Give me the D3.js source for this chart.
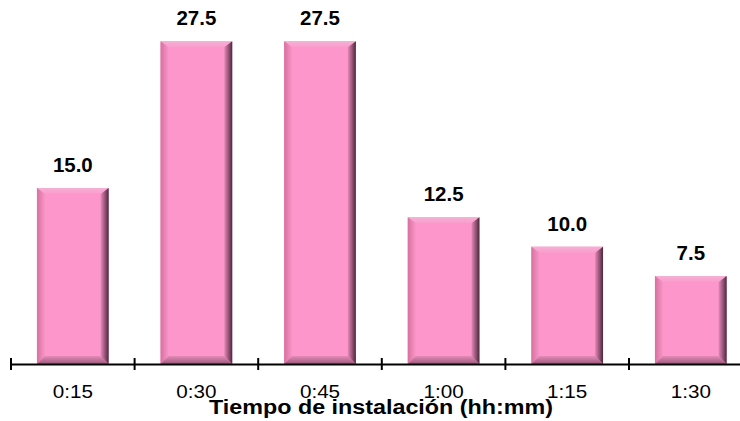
<!DOCTYPE html>
<html>
<head>
<meta charset="utf-8">
<script src="https://cdn.jsdelivr.net/npm/d3@7"></script>
<style>
  html, body { margin: 0; padding: 0; background: #fff; }
  svg { display: block; font-family: Arial, "Liberation Sans", sans-serif; }
</style>
</head>
<body>
<div id="chart"></div>
<script>
  'use strict';
  var categories = ['0:15', '0:30', '0:45', '1:00', '1:15', '1:30'];
  var values = [15.0, 27.5, 27.5, 12.5, 10.0, 7.5];
  var xTitle = 'Tiempo de instalación (hh:mm)';

  var width = 740,
    height = 421,
    left = 11,
    step = 123.6,
    baseY = 364,
    bevel = 8;

  var svg = d3.select('#chart')
    .append('svg')
    .attr('width', width)
    .attr('height', height);

  var x = d3.scaleBand()
    .domain(categories)
    .range([left, left + step * categories.length])
    .paddingInner(0.42)
    .paddingOuter(0.21);

  var y = d3.scaleLinear()
    .domain([0, 30])
    .range([baseY, baseY - 352]);

  var defs = svg.append('defs');
  function grad(id, x1, y1, x2, y2, stops) {
    var g = defs.append('linearGradient').attr('id', id)
      .attr('x1', x1).attr('y1', y1).attr('x2', x2).attr('y2', y2);
    stops.forEach(function(s) {
      g.append('stop').attr('offset', s[0]).attr('stop-color', s[1]);
    });
  }
  grad('bvTop', 0, 1, 0, 0, [[0, '#fb9bcd'], [1, '#f4b0d4']]);
  grad('bvLeft', 1, 0, 0, 0, [[0, '#f896c8'], [1, '#d8709f']]);
  grad('bvRight', 0, 0, 1, 0, [[0, '#e688b8'], [0.6, '#8c4f70'], [1, '#4a2838']]);
  grad('bvBottom', 0, 0, 0, 1, [[0, '#e58ab9'], [1, '#9c5a7c']]);

  var bars = svg.selectAll('.bar')
    .data(values)
    .enter().append('g')
    .attr('class', 'bar');

  bars.each(function(d, i) {
    var g = d3.select(this),
      x0 = x(categories[i]),
      x1 = x0 + x.bandwidth(),
      y0 = y(d),
      y1 = y(0),
      b = bevel;
    g.append('rect')
      .attr('x', x0).attr('y', y0)
      .attr('width', x1 - x0).attr('height', y1 - y0)
      .attr('fill', '#fc96cb');
    var pts = function(a) { return a.map(function(p) { return p.join(','); }).join(' '); };
    g.append('polygon').attr('fill', 'url(#bvTop)')
      .attr('points', pts([[x0, y0], [x1, y0], [x1 - b, y0 + b - 2], [x0 + b, y0 + b - 2]]));
    g.append('polygon').attr('fill', 'url(#bvLeft)')
      .attr('points', pts([[x0, y0], [x0 + b, y0 + b - 2], [x0 + b, y1 - b], [x0, y1]]));
    g.append('polygon').attr('fill', 'url(#bvBottom)')
      .attr('points', pts([[x0, y1], [x0 + b, y1 - b], [x1 - b, y1 - b], [x1, y1]]));
    g.append('polygon').attr('fill', 'url(#bvRight)')
      .attr('points', pts([[x1, y0], [x1 - b, y0 + b - 2], [x1 - b, y1 - b], [x1, y1]]));
  });

  // value labels (slightly wide, like the original)
  svg.selectAll('.val')
    .data(values)
    .enter().append('text')
    .attr('class', 'val')
    .attr('transform', function(d, i) {
      return 'translate(' + (x(categories[i]) + x.bandwidth() / 2) + ',' + (y(d) - 16) + ') scale(1.05,1)';
    })
    .attr('text-anchor', 'middle')
    .style('font-size', '19.5px')
    .style('font-weight', 'bold')
    .text(function(d) { return d.toFixed(1); });

  // x axis
  var axis = svg.append('g')
    .attr('transform', 'translate(0,' + baseY + ')')
    .call(d3.axisBottom(x).tickSize(0));
  axis.select('.domain').attr('stroke', '#000').attr('stroke-width', 2);
  axis.selectAll('.tick text')
    .attr('y', 0)
    .attr('dy', 0)
    .attr('transform', 'translate(0,34) scale(1.18,1)')
    .style('font-size', '17.5px')
    .style('font-family', 'Arial, "Liberation Sans", sans-serif')
    .attr('fill', '#000');

  var bounds = d3.range(categories.length + 1).map(function(i) { return left + i * x.step(); });
  axis.selectAll('.sep')
    .data(bounds)
    .enter().append('line')
    .attr('class', 'sep')
    .attr('x1', function(d) { return d; })
    .attr('x2', function(d) { return d; })
    .attr('y1', -6).attr('y2', 6)
    .attr('stroke', '#000')
    .attr('stroke-width', 2);

  svg.append('text')
    .attr('transform', 'translate(381,414) scale(1.11,1)')
    .attr('text-anchor', 'middle')
    .style('font-size', '21px')
    .style('font-weight', 'bold')
    .text(xTitle);
</script>
</body>
</html>
